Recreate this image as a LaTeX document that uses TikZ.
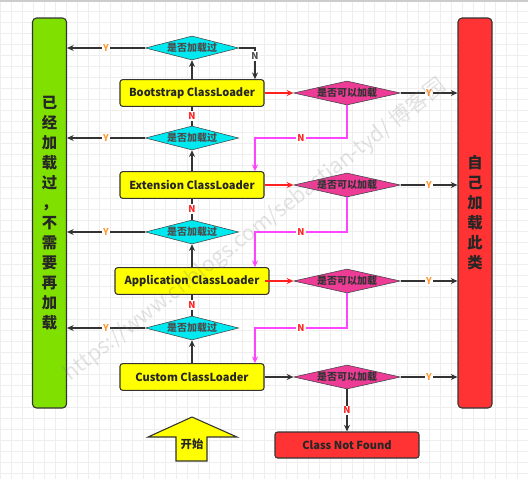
\documentclass[tikz,border=0pt]{standalone}
\usepackage{fontspec}
\setmainfont{Noto Sans CJK SC}
\usetikzlibrary{arrows.meta, positioning, shapes.geometric}

\definecolor{barGreen}{HTML}{80E000}
\definecolor{barRed}{HTML}{FF3333}
\definecolor{boxYellow}{HTML}{FFFF00}
\definecolor{diaCyan}{HTML}{00E8F0}
\definecolor{diaPink}{HTML}{EC3C96}
\definecolor{lineMagenta}{HTML}{FF44FF}
\definecolor{lineRed}{HTML}{FF2020}
\definecolor{labOrange}{HTML}{FF9933}
\definecolor{gridGray}{HTML}{EEEEEE}

\begin{document}
\begin{tikzpicture}[
    x=0.75pt, y=-0.75pt,
    bar/.style={rectangle, rounded corners=3pt, draw=black!80, thick, minimum width=25.5pt, minimum height=292.5pt, align=center, font=\bfseries\fontsize{11.5}{15}\selectfont, text=black!85},
    loader/.style={rectangle, rounded corners=2pt, draw=black!80, thick, fill=boxYellow, minimum width=108pt, minimum height=20pt, inner sep=1pt, font=\bfseries\fontsize{8.3}{10}\selectfont, text=black!85},
    loaded/.style={diamond, aspect=3.9, draw=black!75, fill=diaCyan, inner sep=0pt, minimum width=70pt, minimum height=18pt, font=\bfseries\fontsize{7.5}{8}\selectfont, text=black!70},
    canload/.style={diamond, aspect=4.4, draw=black!75, fill=diaPink, inner sep=0pt, minimum width=80pt, minimum height=18pt, font=\bfseries\fontsize{7.5}{8}\selectfont, text=black!80},
    link/.style={draw=black!80, thick, -{Stealth[length=5pt, width=4.5pt]}},
    redlink/.style={draw=lineRed, thick, -{Stealth[length=5pt, width=4.5pt]}},
    nlink/.style={draw=lineMagenta, thick, -{Stealth[length=5pt, width=4.5pt]}},
    ylab/.style={fill=white, inner sep=1pt, text=labOrange, font=\bfseries\fontsize{7}{8}\selectfont},
    nlab/.style={fill=white, inner sep=1pt, text=lineRed, font=\bfseries\fontsize{7}{8}\selectfont}
]
    % background and grid
    \useasboundingbox[fill=white] (0,0) rectangle (528,479);
    \foreach \g in {0,11,...,528} \draw[gridGray, line width=0.4pt] (\g,0) -- (\g,479);
    \foreach \g in {0,11,...,479} \draw[gridGray, line width=0.4pt] (0,\g) -- (528,\g);
    \draw[gray!40, line width=1.5pt] (0,1) -- (528,1);

    % side bars
    \node[bar, fill=barGreen] (done) at (49.5,213) {已\\经\\加\\载\\过\\，\\不\\需\\要\\再\\加\\载};
    \node[bar, fill=barRed] (self) at (475,213) {自\\己\\加\\载\\此\\类};

    % loaders and checks
    \node[loaded] (chk1) at (192,48) {是否加载过};
    \node[loader] (boot) at (192,93) {Bootstrap ClassLoader};
    \node[loaded] (chk2) at (192,138) {是否加载过};
    \node[loader] (ext) at (192,185) {Extension ClassLoader};
    \node[loaded] (chk3) at (192,232) {是否加载过};
    \node[loader, minimum width=115.5pt] (app) at (192,281) {Application ClassLoader};
    \node[loaded] (chk4) at (192,328) {是否加载过};
    \node[loader] (custom) at (192,377) {Custom ClassLoader};

    \node[canload] (try1) at (347,93) {是否可以加载};
    \node[canload] (try2) at (347,185) {是否可以加载};
    \node[canload] (try3) at (347,281) {是否可以加载};
    \node[canload] (try4) at (347,377) {是否可以加载};

    \node[loader, fill=barRed, minimum height=19.5pt] (nf) at (347,445) {Class Not Found};
    \coordinate (col) at (255,0);

    % start arrow
    \draw[draw=black!80, thick, fill=boxYellow] (192,417) -- (237,437) -- (207,437) -- (207,461) -- (176,461) -- (176,437) -- (148,437) -- cycle;
    \node[font=\bfseries\fontsize{8.5}{10}\selectfont, text=black!85] (start) at (192,444) {开始};

    % already loaded -> green bar
    \foreach \c in {chk1,chk2,chk3,chk4}
        \draw[link] (\c.west) -- node[ylab] {Y} (\c.west -| done.east);

    % delegate upwards
    \draw[link] (boot.north) -- (chk1.south);
    \draw[link] (ext.north) -- (chk2.south);
    \draw[link] (app.north) -- (chk3.south);
    \draw[link] (custom.north) -- (chk4.south);
    \draw[draw=black!80, thick] (chk2.north) -- node[nlab] {N} (boot.south);
    \draw[draw=black!80, thick] (chk3.north) -- node[nlab] {N} (ext.south);
    \draw[draw=black!80, thick] (chk4.north) -- node[nlab] {N} (app.south);
    \draw[link] (chk1.east) -| node[pos=0.63, nlab, text=black!70] {N} (col |- boot.north);

    % try to load
    \draw[redlink] (boot.east) -- (try1.west);
    \draw[redlink] (ext.east) -- (try2.west);
    \draw[redlink] (app.east -| boot.east) -- (try3.west);
    \draw[link] (custom.east) -- (try4.west);
    \foreach \t in {try1,try2,try3,try4}
        \draw[link] (\t.east) -- node[ylab] {Y} (\t.east -| self.west);

    % cannot load -> next loader
    \draw[nlink] (try1.south) |- node[pos=0.75, nlab] {N} (col |- chk2) -- (col |- ext.north);
    \draw[nlink] (try2.south) |- node[pos=0.75, nlab] {N} (col |- chk3) -- (col |- app.north);
    \draw[nlink] (try3.south) |- node[pos=0.75, nlab] {N} (col |- chk4) -- (col |- custom.north);
    \draw[link] (try4.south) -- node[nlab] {N} (nf.north);

    % watermark
    \node[rotate=37.8, text=gray, opacity=0.22, font=\fontsize{16}{16}\selectfont] (mark) at (255,230) {https://www.cnblogs.com/sebastian-tyd/ 博客园};
\end{tikzpicture}
\end{document}
